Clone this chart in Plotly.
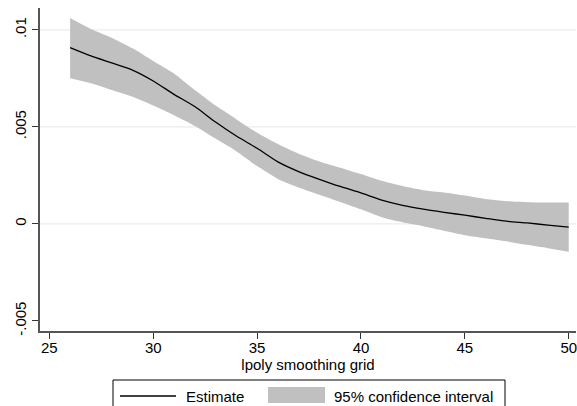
import plotly.graph_objects as go

grid_x = list(range(26, 51))
estimate = [0.00909, 0.00866, 0.00830, 0.00793, 0.00737, 0.00668, 0.00605, 0.00525,
            0.00453, 0.00390, 0.00320, 0.00270, 0.00230, 0.00193, 0.00160, 0.00123,
            0.00096, 0.00076, 0.00060, 0.00045, 0.00029, 0.00014, 0.00005, -0.00006,
            -0.00017]
ci_upper = [0.01062, 0.01005, 0.00960, 0.00905, 0.00840, 0.00775, 0.00690, 0.00610,
            0.00540, 0.00470, 0.00412, 0.00362, 0.00322, 0.00290, 0.00257, 0.00222,
            0.00195, 0.00174, 0.00162, 0.00146, 0.00128, 0.00117, 0.00112, 0.00110,
            0.00110]
ci_lower = [0.00751, 0.00725, 0.00690, 0.00655, 0.00610, 0.00560, 0.00505, 0.00440,
            0.00375, 0.00298, 0.00232, 0.00188, 0.00150, 0.00113, 0.00075, 0.00034,
            0.00008, -0.00012, -0.00035, -0.00058, -0.00074, -0.00090, -0.00108,
            -0.00125, -0.00143]

x_ticks = [25, 30, 35, 40, 45, 50]
y_ticks = [-0.005, 0, 0.005, 0.01]
y_tick_labels = ["-.005", "0", ".005", ".01"]
grid_lines = [0, 0.005, 0.01]
legend_labels = ["Estimate", "95% confidence interval"]

FONT = "Liberation Sans, Arial, sans-serif"
BAND = "#c0c0c0"

W, H = 577, 406
L, R, T, B = 40, 1, 8, 75
PW, PH = W - L - R, H - T - B


def px(xp):
    return (xp - L) / PW


def py(yp):
    return (H - B - yp) / PH


fig = go.Figure()
fig.add_trace(go.Scatter(
    x=grid_x, y=ci_lower, mode="lines", line=dict(width=0, color=BAND, shape="spline", smoothing=0.6),
    showlegend=False, hoverinfo="skip",
))
fig.add_trace(go.Scatter(
    x=grid_x, y=ci_upper, mode="lines", fill="tonexty", fillcolor=BAND,
    line=dict(width=0, color=BAND, shape="spline", smoothing=0.6),
    name=legend_labels[1], showlegend=False, hoverinfo="skip",
))
fig.add_trace(go.Scatter(
    x=grid_x, y=estimate, mode="lines",
    line=dict(color="black", width=1.3, shape="spline", smoothing=0.6),
    name=legend_labels[0], showlegend=False,
))

for g in grid_lines:
    fig.add_shape(type="line", xref="paper", x0=0, x1=1, yref="y", y0=g, y1=g,
                  line=dict(color="#e6e6e6", width=1), layer="below")

# Legend box (bottom edge falls outside the image, as in the reference)
box_l, box_r, box_t, box_b = 113, 505, 380, 412
for (x0, y0, x1, y1) in [(box_l, box_t, box_r, box_t), (box_l, box_t, box_l, box_b),
                         (box_r, box_t, box_r, box_b)]:
    fig.add_shape(type="line", xref="paper", yref="paper",
                  x0=px(x0), y0=py(y0), x1=px(x1), y1=py(y1),
                  line=dict(color="black", width=1))
fig.add_shape(type="line", xref="paper", yref="paper",
              x0=px(120), x1=px(176), y0=py(396), y1=py(396),
              line=dict(color="black", width=1.3))
fig.add_shape(type="rect", xref="paper", yref="paper",
              x0=px(268), x1=px(325), y0=py(387), y1=py(403),
              fillcolor=BAND, line=dict(width=0))
fig.add_annotation(text=legend_labels[0], xref="paper", yref="paper",
                   x=px(184), y=py(396), xanchor="left", yanchor="middle",
                   showarrow=False, font=dict(size=15, color="black"))
fig.add_annotation(text=legend_labels[1], xref="paper", yref="paper",
                   x=px(332), y=py(396), xanchor="left", yanchor="middle",
                   showarrow=False, font=dict(size=15, color="black"))

fig.update_layout(
    width=W, height=H,
    margin=dict(l=L, r=R, t=T, b=B),
    paper_bgcolor="white", plot_bgcolor="white",
    font=dict(family=FONT, size=15, color="black"),
    showlegend=False,
    xaxis=dict(range=[24.55, 50.35], tickvals=x_ticks, showgrid=False, zeroline=False,
               showline=True, linecolor="#555555", linewidth=1.5,
               ticks="outside", ticklen=6, tickcolor="#333333", tickwidth=1.2,
               ticklabeloverflow="allow", ticklabelstandoff=-4,
               title=dict(text="lpoly smoothing grid", standoff=2,
                          font=dict(size=15))),
    yaxis=dict(range=[-0.00552, 0.01113], tickvals=y_ticks, ticktext=y_tick_labels,
               tickangle=-90, showgrid=False, zeroline=False,
               showline=True, linecolor="#555555", linewidth=1.5,
               ticks="outside", ticklen=6, tickcolor="#333333", tickwidth=1.2,
               ticklabelstandoff=0),
)

fig.write_html("out.html", config={"displayModeBar": False},
               post_script="document.body.style.margin='0';document.body.style.overflow='hidden';")
